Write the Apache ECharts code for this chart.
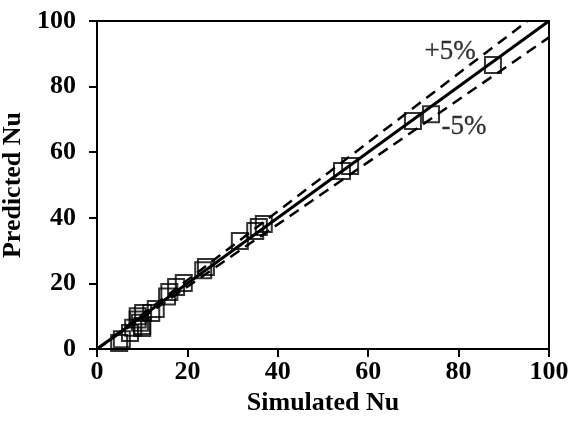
<!DOCTYPE html>
<html>
<head>
<meta charset="utf-8">
<script src="https://cdn.jsdelivr.net/npm/echarts@6/dist/echarts.min.js"></script>
<style>
  html, body { margin: 0; padding: 0; background: #fff; }
</style>
</head>
<body>
<div id="chart" style="width:573px; height:423px;"></div>
<script>
// simulated vs predicted Nu
var simulated = [87.6, 69.9, 73.9, 56, 54.2, 36.9, 35.8, 35, 31.6, 24.1, 23.5, 19.2, 17.5, 16, 15.5, 13, 12, 10.2, 9, 9, 9.5, 10, 10, 8, 7.3, 5.5, 4.9];
var predicted = [86.6, 69.5, 71.6, 55.8, 54.3, 38.1, 37.2, 36, 32.9, 25, 24, 20.1, 18.9, 17.4, 16, 12.2, 11, 11, 10, 9, 8, 7, 6.4, 6.5, 4.9, 3, 1.8];

// reference lines: y = x and +/-5%
var perfectLine = [[0, 0], [100, 100]];
var plusLine = [[0, 0], [95.24, 100]];
var minusLine = [[0, 0], [100, 95]];

var labelText = ['+5%', '-5%'];
var labelPos = [[78.1, 90.5], [81.2, 67.7]];

var points = simulated.map(function (v, i) { return [v, predicted[i]]; });

var font = '"Liberation Serif", "Times New Roman", serif';

var myChart = echarts.init(document.getElementById('chart'));
myChart.setOption({
  animation: false,
  grid: {
    left: 97, right: 24, top: 21, bottom: 74,
    outerBoundsMode: 'none',
    show: true, borderColor: '#000', borderWidth: 2
  },
  xAxis: {
    type: 'value', min: 0, max: 100, interval: 20,
    name: 'Simulated Nu', nameLocation: 'middle', nameGap: 30,
    nameTextStyle: { fontFamily: font, fontWeight: 'bold', fontSize: 26, color: '#000' },
    axisLine: { lineStyle: { color: '#000', width: 2 } },
    axisTick: { show: true, length: 8, lineStyle: { color: '#000', width: 2 } },
    axisLabel: { fontFamily: font, fontWeight: 'bold', fontSize: 26, color: '#000', margin: 10 },
    splitLine: { show: false }
  },
  yAxis: {
    type: 'value', min: 0, max: 100, interval: 20,
    name: 'Predicted Nu', nameLocation: 'middle', nameGap: 59,
    nameTextStyle: { fontFamily: font, fontWeight: 'bold', fontSize: 26, color: '#000' },
    axisLine: { lineStyle: { color: '#000', width: 2 } },
    axisTick: { show: true, length: 8, lineStyle: { color: '#000', width: 2 } },
    axisLabel: { fontFamily: font, fontWeight: 'bold', fontSize: 26, color: '#000', margin: 21 },
    splitLine: { show: false }
  },
  series: [
    {
      type: 'scatter', data: points, symbol: 'rect', symbolSize: 16,
      itemStyle: { color: 'rgba(0,0,0,0)', borderColor: '#000', borderWidth: 2 },
      z: 3
    },
    {
      type: 'line', data: perfectLine, symbol: 'none',
      lineStyle: { color: '#000', width: 3 }, z: 2
    },
    {
      type: 'line', data: plusLine, symbol: 'none',
      lineStyle: { color: '#000', width: 2.5, type: [11, 7] }, z: 2
    },
    {
      type: 'line', data: minusLine, symbol: 'none',
      lineStyle: { color: '#000', width: 2.5, type: [11, 7] }, z: 2
    },
    {
      type: 'scatter', symbolSize: 0,
      itemStyle: { color: '#000' },
      data: labelPos.map(function (p, i) { return { value: p, name: labelText[i] }; }),
      label: {
        show: true, position: 'inside', formatter: '{b}',
        fontFamily: font, fontSize: 27, color: '#000',
        textBorderColor: '#000', textBorderWidth: 0.3
      },
      z: 4
    }
  ]
});
</script>
</body>
</html>
